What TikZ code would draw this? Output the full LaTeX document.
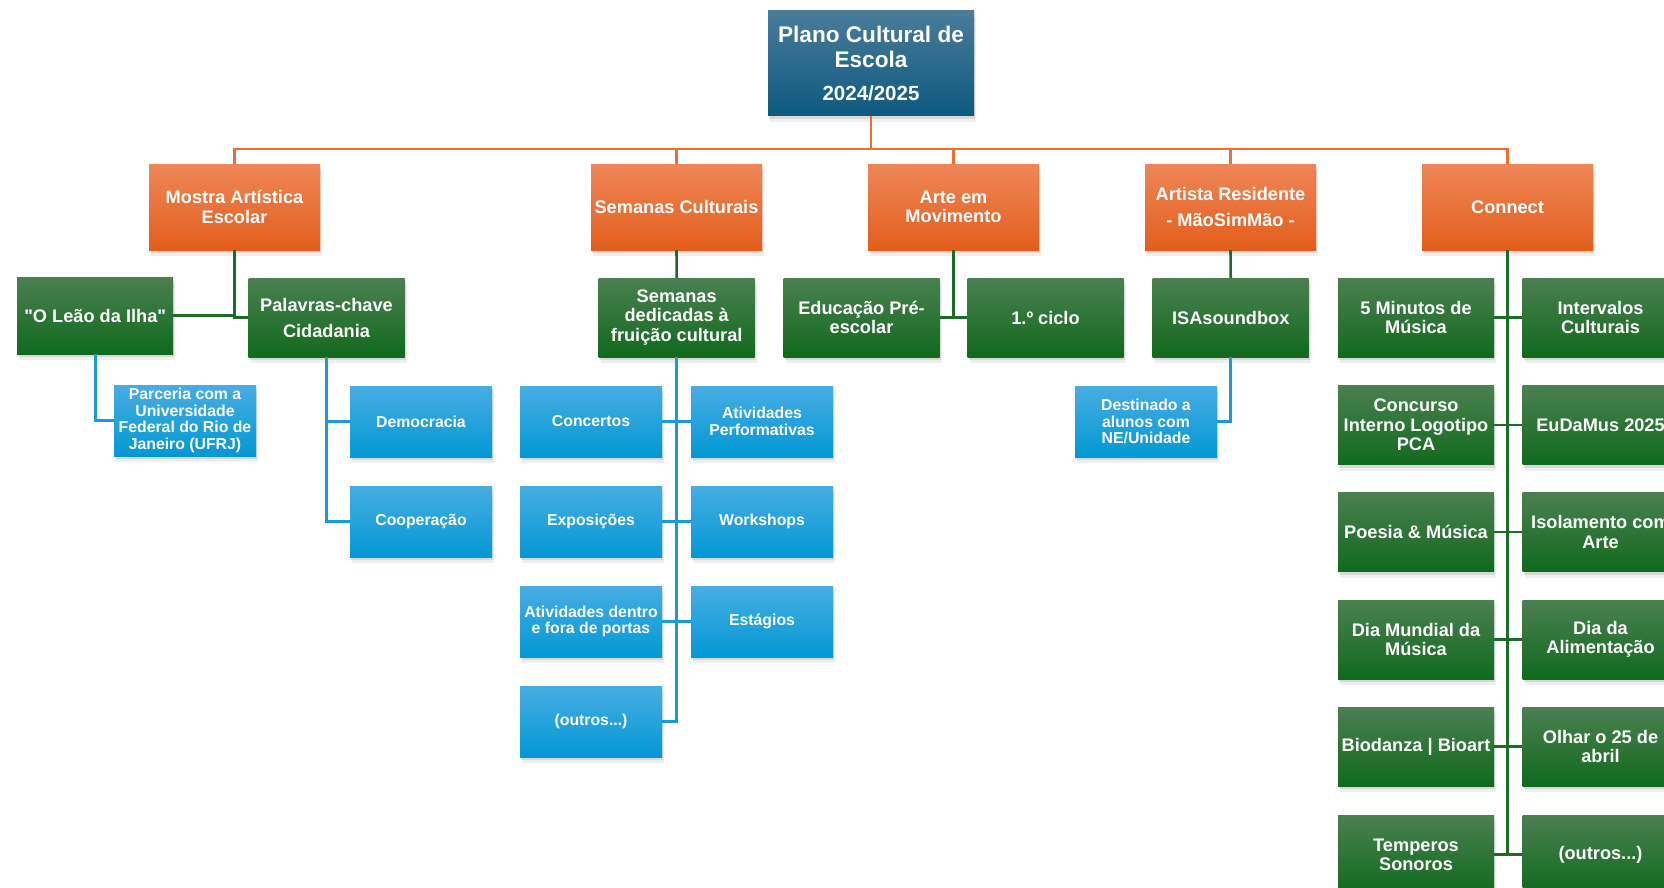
\documentclass[tikz,border=0pt]{standalone}
\usepackage{fontspec}
\setmainfont{Liberation Sans}[Ligatures=TeXOff]
\usetikzlibrary{shadows}
\definecolor{rootTop}{HTML}{4A7B9A}
\definecolor{rootBottom}{HTML}{0D5A7F}
\definecolor{orangeTop}{HTML}{EE8658}
\definecolor{orangeBottom}{HTML}{E35E1B}
\definecolor{orangeLine}{HTML}{EC6F2F}
\definecolor{greenTop}{HTML}{4B8051}
\definecolor{greenBottom}{HTML}{106A1D}
\definecolor{greenLine}{HTML}{1E6B27}
\definecolor{blueTop}{HTML}{47ADE2}
\definecolor{blueBottom}{HTML}{0398D4}
\definecolor{blueLine}{HTML}{1A9BD7}

\begin{document}
\begin{tikzpicture}[x=1pt, y=-1pt,
boxbase/.style={rectangle, inner sep=0pt, align=center, text=white, drop shadow={shadow xshift=2pt, shadow yshift=-6pt, opacity=0.12}, drop shadow={shadow xshift=1pt, shadow yshift=-3pt, opacity=0.2}},
rootnode/.style={boxbase, top color=rootTop, bottom color=rootBottom, minimum width=206pt, minimum height=105pt, font=\fontsize{22.6}{25.3}\selectfont\bfseries},
orangenode/.style={boxbase, top color=orangeTop, bottom color=orangeBottom, minimum width=171pt, minimum height=86pt, font=\fontsize{18.2}{19.3}\selectfont\bfseries},
greennode/.style={boxbase, top color=greenTop, bottom color=greenBottom, minimum width=156pt, minimum height=79pt, font=\fontsize{18.2}{19.3}\selectfont\bfseries},
bluenode/.style={boxbase, top color=blueTop, bottom color=blueBottom, minimum width=142pt, minimum height=71pt, font=\fontsize{15.8}{16.7}\selectfont\bfseries},
orangeline/.style={draw=orangeLine, line width=2.6pt},
greenline/.style={draw=greenLine, line width=2.6pt},
blueline/.style={draw=blueLine, line width=2.6pt}]

\fill[white] (0,0) rectangle (1664,888);
\useasboundingbox (0,0) rectangle (1664,888);

\node[rootnode](root) at (871, 63.5){Plano Cultural de\\Escola\\[7pt]{\fontsize{20.5}{22}\selectfont 2024/2025}};

\node[orangenode](mostra) at (234.5, 207){Mostra Artística\\Escolar};
\node[orangenode](semanas) at (676.5, 207){Semanas Culturais};
\node[orangenode](arte) at (953.5, 207){Arte em\\Movimento};
\node[orangenode](artista) at (1230.5, 207){Artista Residente\\[7pt]- MãoSimMão -};
\node[orangenode](connect) at (1507.5, 207){Connect};

\coordinate (orangebus) at (871, 149);
\draw[orangeline](root.south) -- (orangebus);
\draw[orangeline](mostra.north) |- (orangebus);
\draw[orangeline](semanas.north) |- (orangebus);
\draw[orangeline](arte.north) |- (orangebus);
\draw[orangeline](artista.north) |- (orangebus);
\draw[orangeline](connect.north) |- (orangebus);

\node[greennode, minimum height=77pt](leao) at (95.2, 315.5){"O Leão da Ilha"};
\node[greennode](palavras) at (326.5, 317.5){Palavras-chave\\[6.7pt]Cidadania};
\node[greennode](dedicadas) at (676.7, 317.5){Semanas\\dedicadas à\\fruição cultural};
\node[greennode](educacao) at (861.5, 317.5){Educação Pré-\\escolar};
\node[greennode](ciclo) at (1045.5, 317.5){1.º ciclo};
\node[greennode](isa) at (1230.7, 317.5){ISAsoundbox};

\draw[greenline](mostra.south) |- (palavras.west);
\draw[greenline](leao.east) -- (leao.east -| mostra.south);
\draw[greenline](semanas.south) -- (dedicadas.north);
\draw[greenline](arte.south) |- (ciclo.west);
\draw[greenline](educacao.east) -- (ciclo.west);
\draw[greenline](artista.south) -- (isa.north);

\node[greennode](minutos) at (1416, 317.5){5 Minutos de\\Música};
\node[greennode](intervalos) at (1600.5, 317.5){Intervalos\\Culturais};
\node[greennode](concurso) at (1416, 425){Concurso\\Interno Logotipo\\PCA};
\node[greennode](eudamus) at (1600.5, 425){EuDaMus 2025};
\node[greennode](poesia) at (1416, 532){Poesia \& Música};
\node[greennode](isolamento) at (1600.5, 532){Isolamento com\\Arte};
\node[greennode](diamundial) at (1416, 639.5){Dia Mundial da\\Música};
\node[greennode](alimentacao) at (1600.5, 639.5){Dia da\\Alimentação};
\node[greennode](biodanza) at (1416, 746.5){Biodanza | Bioart};
\node[greennode](olhar) at (1600.5, 746.5){Olhar o 25 de\\abril};
\node[greennode](temperos) at (1416, 854.5){Temperos\\Sonoros};
\node[greennode](outrosconnect) at (1600.5, 854.5){(outros...)};

\draw[greenline](connect.south) |- (temperos.east);
\draw[greenline](minutos.east) -- (intervalos.west);
\draw[greenline](concurso.east) -- (eudamus.west);
\draw[greenline](poesia.east) -- (isolamento.west);
\draw[greenline](diamundial.east) -- (alimentacao.west);
\draw[greenline](biodanza.east) -- (olhar.west);
\draw[greenline](temperos.east) -- (outrosconnect.west);

\node[bluenode](parceria) at (185, 420.5){Parceria com a\\Universidade\\Federal do Rio de\\Janeiro (UFRJ)};
\node[bluenode](democracia) at (421, 421.5){Democracia};
\node[bluenode](cooperacao) at (421, 521.5){Cooperação};

\draw[blueline](leao.south) |- (parceria.west);
\draw[blueline](palavras.south) |- (democracia.west);
\draw[blueline](palavras.south) |- (cooperacao.west);

\node[bluenode](concertos) at (591, 421.5){Concertos};
\node[bluenode](performativas) at (762, 421.5){Atividades\\Performativas};
\node[bluenode](exposicoes) at (591, 521.5){Exposições};
\node[bluenode](workshops) at (762, 521.5){Workshops};
\node[bluenode](dentrofora) at (591, 621.5){Atividades dentro\\e fora de portas};
\node[bluenode](estagios) at (762, 621.5){Estágios};
\node[bluenode](outrossemanas) at (591, 721.5){(outros...)};

\draw[blueline](dedicadas.south) |- (outrossemanas.east);
\draw[blueline](concertos.east) -- (performativas.west);
\draw[blueline](exposicoes.east) -- (workshops.west);
\draw[blueline](dentrofora.east) -- (estagios.west);

\node[bluenode](destinado) at (1146, 421.5){Destinado a\\alunos com\\NE/Unidade};
\draw[blueline](isa.south) |- (destinado.east);

\end{tikzpicture}
\end{document}
